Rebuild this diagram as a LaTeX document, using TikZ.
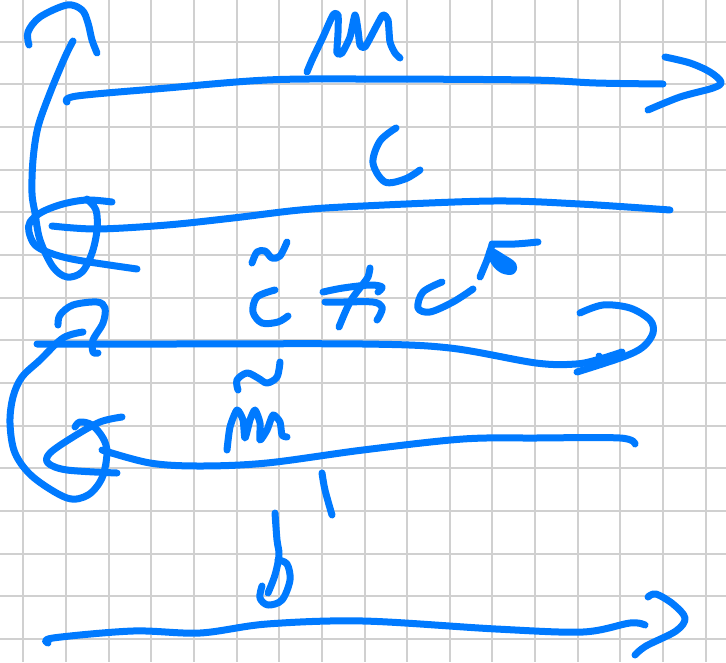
\documentclass[tikz,border=0pt]{standalone}
\definecolor{inkblue}{RGB}{0,122,255}
\definecolor{gridgray}{RGB}{208,208,208}
\tikzset{
  ink/.style={draw=inkblue, line width=7pt, line cap=round, line join=round},
  gridline/.style={draw=gridgray, line width=2pt},
  sm/.style={smooth, tension=0.55}
}
\begin{document}
\begin{tikzpicture}[x=1pt, y=-1pt]
\useasboundingbox (0,0) rectangle (726,662);
\fill[white] (0,0) rectangle (726,662);
% grid paper
\foreach \k in {0,...,16} \draw[gridline] ({23.3+42.65*\k},0) -- ({23.3+42.65*\k},662);
\foreach \k in {1,...,15} \draw[gridline] (0,{-0.95+42.65*\k}) -- (726,{-0.95+42.65*\k});

% ===== band 1 =====
% hook at top left
\draw[ink] plot[sm] coordinates {(29,45) (28,32) (40,17) (67,5) (82,10) (88,23) (92,40) (97,53)};
% long left curve with loop
\draw[ink] plot[sm] coordinates {(73,41) (65,57) (50,93) (38,127) (33,160) (32,193) (35,213) (40,240) (53,267) (67,277) (82,272) (92,253) (97,230) (96,210) (87,199)};
% e-shaped stroke
\draw[ink] plot[sm] coordinates {(112,202) (87,200) (63,204) (42,212) (30,222) (29,232) (35,245) (50,253) (77,260) (137,269)};
% lower line of band 1
\draw[ink] plot[sm] coordinates {(52,226) (97,229) (167,225) (233,218) (300,210) (363,206) (493,201) (580,204) (670,210)};
% upper arrow line
\draw[ink] plot[sm] coordinates {(67,102) (77,96) (167,88) (267,80) (363,79) (530,80) (596,83) (663,84)};
% arrow head
\draw[ink] plot[sm] coordinates {(665,57) (690,63) (710,72) (721,82) (713,88) (680,97) (648,110)};
% label M
\draw[ink] plot[smooth, tension=0.4] coordinates {(307,72) (312,60) (323,37) (333,15) (338,15) (338,33) (337,53) (342,53) (350,37) (355,15) (358,30) (360,45) (365,47) (377,25) (383,15) (388,20) (390,42) (395,53) (400,58)};
% label c
\draw[ink] plot[sm] coordinates {(396,128) (380,141) (373,163) (385,182) (405,179) (420,170)};

% ===== middle labels =====
% tilde over c
\draw[ink] plot[sm] coordinates {(252,263) (257,252) (265,251) (272,258) (280,256) (287,242)};
% c
\draw[ink] plot[sm] coordinates {(275,290) (257,297) (253,312) (262,323) (278,322) (288,316)};
% not-equal sign
\draw[ink] plot[sm] coordinates {(323,292) (343,288) (370,285) (382,287) (378,292)};
\draw[ink] plot[sm] coordinates {(325,302) (343,302) (373,302) (382,307) (380,315) (377,320)};
\draw[ink] plot[sm] coordinates {(370,268) (368,277) (363,284) (350,302) (339,327)};
% c
\draw[ink] plot[sm] coordinates {(442,282) (423,292) (418,308) (430,312) (453,302) (473,289)};
% small arrow
\draw[ink] plot[sm] coordinates {(480,277) (487,260) (492,245)};
\draw[ink] plot[sm] coordinates {(492,244) (515,244) (538,242)};
\filldraw[ink, fill=inkblue] plot[smooth cycle, tension=0.6] coordinates {(490,251) (503,258) (513,265) (512,271) (503,270) (495,263)};

% ===== band 2 =====
% hook
\draw[ink] plot[sm] coordinates {(58,325) (60,315) (73,305) (97,302) (105,308) (103,323) (93,340) (93,352) (98,353)};
% loop stroke
\draw[ink] plot[sm] coordinates {(83,332) (63,338) (40,360) (22,377) (13,397) (10,423) (15,453) (33,477) (67,498) (88,495) (102,478) (107,453) (103,438) (92,425) (80,422) (75,427)};
% alpha stroke
\draw[ink] plot[sm] coordinates {(122,417) (100,422) (73,437) (50,453) (48,463) (67,470) (117,473)};
% upper line of band 2
\draw[ink] plot[sm] coordinates {(37,344) (167,344) (363,344) (450,348) (536,363) (576,364) (600,359) (622,352)};
% arrow head
\draw[ink] plot[sm] coordinates {(580,313) (603,305) (630,308) (650,320) (653,333) (643,347) (623,357) (577,372)};
\draw[ink] (599,356) -- (601,361);
% lower line of band 2
\draw[ink] plot[sm] coordinates {(102,450) (150,463) (200,466) (267,463) (363,450) (463,439) (536,438) (620,438) (635,444)};
% tilde over m
\draw[ink] plot[sm] coordinates {(238,390) (237,380) (247,373) (258,378) (267,383) (277,377) (280,362)};
% m
\draw[ink] plot[smooth, tension=0.4] coordinates {(227,450) (230,427) (237,410) (243,420) (245,438) (250,420) (255,410) (260,423) (260,440) (267,430) (273,415) (280,422) (282,435) (287,437)};
% tick
\draw[ink] plot[sm] coordinates {(322,473) (325,490) (332,515)};
% b
\draw[ink] plot[sm] coordinates {(275,513) (277,540) (279,555) (275,575) (268,593)};
\draw[ink] plot[sm] coordinates {(262,586) (260,598) (268,605) (282,600) (290,580) (287,564) (278,560)};

% ===== bottom arrow =====
\draw[ink] plot[sm] coordinates {(48,643) (53,638) (133,631) (200,633) (267,624) (363,621) (496,629) (583,632) (630,623) (645,625)};
\draw[ink] plot[sm] coordinates {(648,597) (656,594) (673,604) (685,618) (676,631) (646,646) (635,655)};
\end{tikzpicture}
\end{document}
